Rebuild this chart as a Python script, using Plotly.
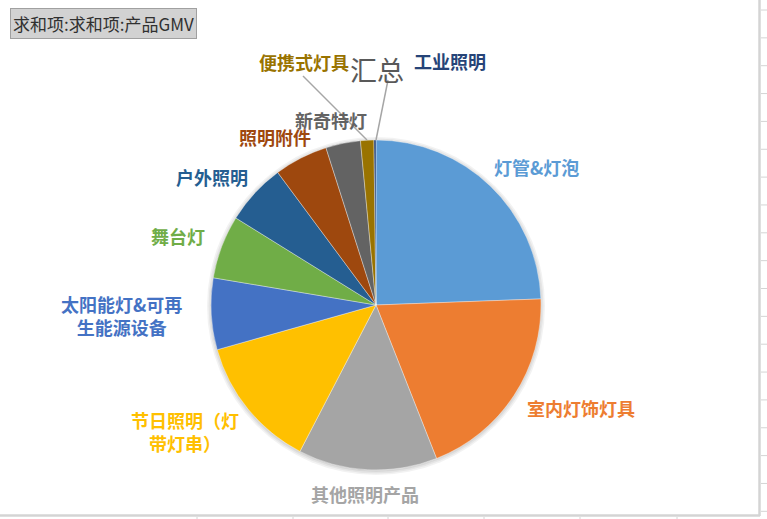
import plotly.graph_objects as go

# data (share of GMV)
categories = ["灯管&灯泡", "室内灯饰灯具", "其他照明产品", "节日照明（灯带灯串）",
              "太阳能灯&可再生能源设备", "舞台灯", "户外照明", "照明附件",
              "新奇特灯", "便携式灯具", "工业照明"]
gmv = [24.4, 19.6, 13.6, 13.0, 7.0, 6.2, 6.0, 5.25, 3.4, 1.3, 0.2]
label_text = ["灯管&灯泡", "室内灯饰灯具", "其他照明产品", "节日照明（灯<br>带灯串）",
              "太阳能灯&可再<br>生能源设备", "舞台灯", "户外照明", "照明附件",
              "新奇特灯", "便携式灯具", "工业照明"]
colors = ["#5B9BD5", "#ED7D31", "#A5A5A5", "#FFC000", "#4472C4", "#70AD47",
          "#255E91", "#9E480E", "#636363", "#997300", "#264478"]

# body margin is removed in the page, so the figure fills the window
W, H = 767, 519

def px(x):
    return x / W

def py(y):
    return 1 - y / H

# pie geometry in window pixels
cx, cy, r = 376, 305, 165

fig = go.Figure(go.Pie(
    labels=categories,
    values=gmv,
    sort=False,
    direction="clockwise",
    rotation=0,
    textinfo="none",
    hoverinfo="label+value",
    marker=dict(colors=colors, line=dict(color="rgba(255,255,255,0.6)", width=0.6)),
    domain=dict(x=[px(cx - r), px(cx + r)], y=[py(cy + r), py(cy - r)]),
    showlegend=False,
))

# label placement (window pixel centres)
label_pos = [(536, 167), (581, 408), (365, 494), (185, 431), (121, 315),
             (178, 236), (212, 177), (275, 137), (331, 120), (304, 62), (450, 61)]

font_cjk = "Noto Sans CJK SC"
annotations = []
for txt, col, (lx, ly) in zip(label_text, colors, label_pos):
    annotations.append(dict(
        x=px(lx), y=py(ly), xref="paper", yref="paper", text=txt,
        xanchor="center", yanchor="middle",
        showarrow=False, align="center",
        font=dict(family=font_cjk, size=18, color=col, weight="bold"),
    ))

annotations.append(dict(x=px(377), y=py(69), xref="paper", yref="paper", text="汇总",
                        xanchor="center", yanchor="middle",
                        showarrow=False, font=dict(family=font_cjk, size=27, color="#595959")))
annotations.append(dict(x=px(10), y=py(24), xref="paper", yref="paper",
                        xanchor="left", yanchor="middle",
                        text="求和项:求和项:产品GMV", showarrow=False,
                        bgcolor="#d2d2d2", bordercolor="#a0a0a0", borderwidth=1, borderpad=2,
                        font=dict(family=font_cjk, size=17, color="#303030")))

shapes = []
# soft shadow behind the pie
for i, a in enumerate([0.05, 0.05, 0.06]):
    rr = r + 4 - i * 1.5
    shapes.append(dict(type="circle", xref="paper", yref="paper", layer="below",
                       x0=px(cx - rr), x1=px(cx + rr), y0=py(cy + rr + 1), y1=py(cy - rr + 1),
                       fillcolor=f"rgba(0,0,0,{a})", line=dict(width=0)))

# leader lines
leader = [((303, 76), (367, 140)), ((388, 80), (376, 140))]
for (x0, y0), (x1, y1) in leader:
    shapes.append(dict(type="line", xref="paper", yref="paper",
                       x0=px(x0), y0=py(y0), x1=px(x1), y1=py(y1),
                       line=dict(color="#a6a6a6", width=1.5)))

# spreadsheet grid at the edges
shapes.append(dict(type="line", xref="paper", yref="paper", x0=px(759.5), x1=px(759.5),
                   y0=1, y1=py(516), line=dict(color="#d4d4d4", width=2.5)))
shapes.append(dict(type="line", xref="paper", yref="paper", x0=0, x1=px(760),
                   y0=py(515.5), y1=py(515.5), line=dict(color="#d4d4d4", width=2.5)))
for k in range(19):
    yy = 10 + 27.85 * k
    shapes.append(dict(type="line", xref="paper", yref="paper", x0=px(761), x1=1,
                       y0=py(yy), y1=py(yy), line=dict(color="#d4d4d4", width=1)))
for xx in [197, 293, 388, 484, 580, 677]:
    shapes.append(dict(type="line", xref="paper", yref="paper", x0=px(xx), x1=px(xx),
                       y0=py(517), y1=0, line=dict(color="#d4d4d4", width=1)))

fig.update_layout(
    width=W, height=H,
    margin=dict(l=0, r=0, t=0, b=0),
    paper_bgcolor="white", plot_bgcolor="white",
    annotations=annotations, shapes=shapes,
)

fig.write_html("out.html", config={"displayModeBar": False},
               post_script="document.body.style.margin='0';document.body.style.overflow='hidden';")
